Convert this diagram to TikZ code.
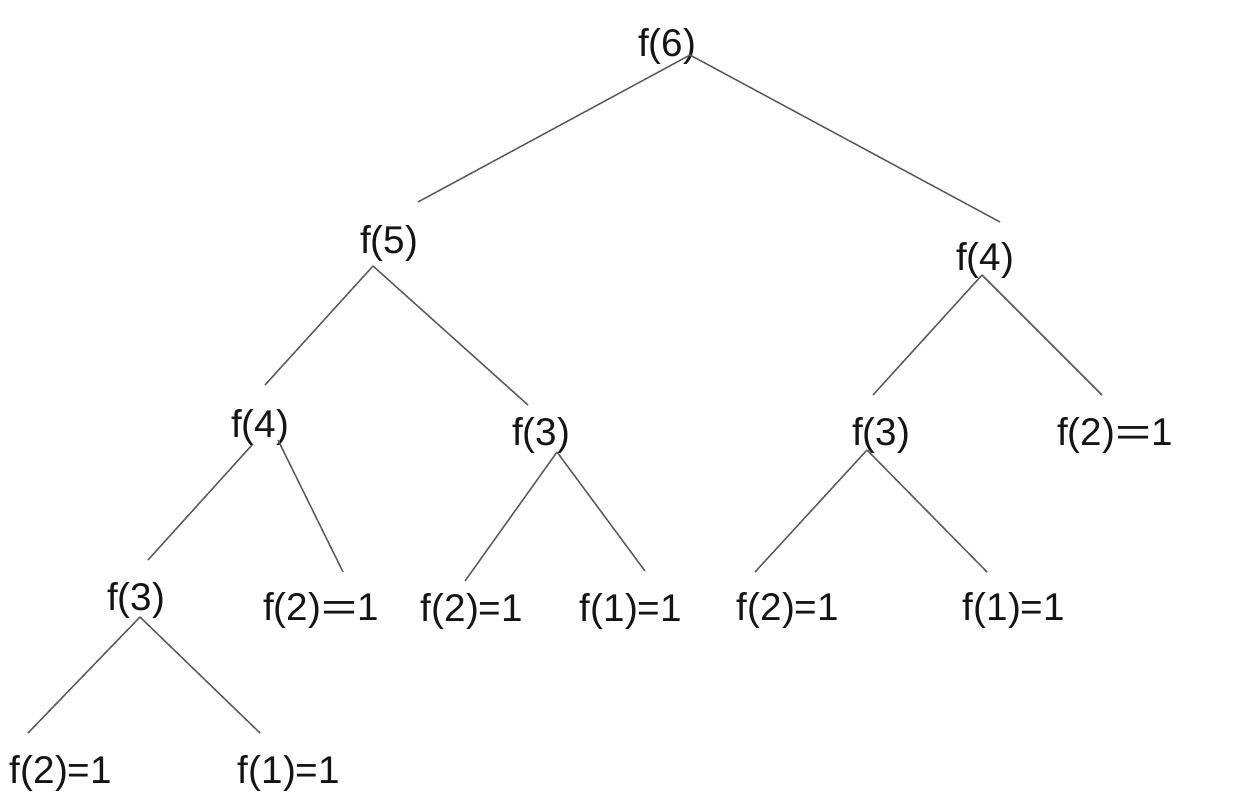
\documentclass[tikz,border=0pt]{standalone}
\usepackage{fontspec}
\setmainfont{Liberation Sans}
\usepackage{xcolor}
\usepackage{graphicx}
\usepackage{tikz}
\usetikzlibrary{positioning}
\definecolor{textblack}{RGB}{20, 20, 20}
\definecolor{linegray}{RGB}{90, 90, 90}

\begin{document}
\begin{tikzpicture}[x=0.02cm, y=-0.02cm,
    call/.style={anchor=base, inner sep=0pt, font=\fontsize{22}{26}\selectfont, text=textblack},
    branch/.style={draw=linegray, line width=0.85pt}]
\useasboundingbox (0,0) rectangle (1240,794);

% Level 0
\node[call] (f6) at (667,57) {f(6)};

% Level 1
\node[call] (f5)  at (389,253) {f(5)};
\node[call] (f4r) at (985,270) {f(4)};

% Level 2
\node[call] (f4l) at (260,437)  {f(4)};
\node[call] (f3m) at (541,445)  {f(3)};
\node[call] (f3r) at (881,445)  {f(3)};
\node[call] (f2r) at (1115,445) {f(2)\scalebox{1.6}[1]{=}1};

% Level 3
\node[call] (f3ll) at (136,610)  {f(3)};
\node[call] (f2a)  at (321,620)  {f(2)\scalebox{1.6}[1]{=}1};
\node[call] (f2b)  at (472,621)  {f(2)=1};
\node[call] (f1b)  at (631,621)  {f(1)=1};
\node[call] (f2c)  at (788,620)  {f(2)=1};
\node[call] (f1c)  at (1014,620) {f(1)=1};

% Level 4
\node[call] (f2d) at (61,783)  {f(2)=1};
\node[call] (f1d) at (289,783) {f(1)=1};

% Branches of f(6)
\draw[branch] ([shift={(23,-2)}]f6.base) -- ([shift={(29,-51)}]f5.base);
\draw[branch] ([shift={(23,-2)}]f6.base) -- ([shift={(15,-48)}]f4r.base);

% Branches of f(5)
\draw[branch] ([shift={(-16,13)}]f5.base) -- ([shift={(5,-52)}]f4l.base);
\draw[branch] ([shift={(-16,13)}]f5.base) -- ([shift={(-13,-40)}]f3m.base);

% Branches of f(4), right
\draw[branch] ([shift={(-3,5)}]f4r.base) -- ([shift={(-8,-50)}]f3r.base);
\draw[branch] ([shift={(-3,5)}]f4r.base) -- ([shift={(-13,-50)}]f2r.base);

% Branches of f(4), left
\draw[branch] ([shift={(-8,8)}]f4l.base) -- ([shift={(12,-50)}]f3ll.base);
\draw[branch] ([shift={(18,3)}]f4l.base) -- ([shift={(22,-48)}]f2a.base);

% Branches of f(3), middle
\draw[branch] ([shift={(16,7)}]f3m.base) -- ([shift={(-7,-40)}]f2b.base);
\draw[branch] ([shift={(16,7)}]f3m.base) -- ([shift={(14,-50)}]f1b.base);

% Branches of f(3), right
\draw[branch] ([shift={(-14,5)}]f3r.base) -- ([shift={(-33,-48)}]f2c.base);
\draw[branch] ([shift={(-14,5)}]f3r.base) -- ([shift={(-27,-48)}]f1c.base);

% Branches of f(3), far left
\draw[branch] ([shift={(4,7)}]f3ll.base) -- ([shift={(-33,-50)}]f2d.base);
\draw[branch] ([shift={(4,7)}]f3ll.base) -- ([shift={(-29,-50)}]f1d.base);
\end{tikzpicture}
\end{document}
